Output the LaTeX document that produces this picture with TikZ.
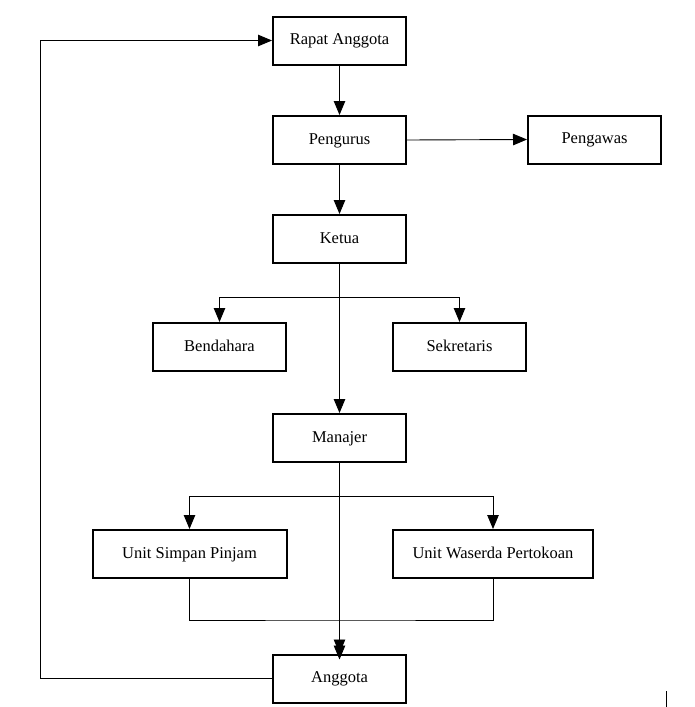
\documentclass[tikz,border=0pt]{standalone}
\usepackage{fontspec}
\setmainfont{Liberation Serif}
\usetikzlibrary{arrows.meta}
\begin{document}
\begin{tikzpicture}[x=1pt,y=-1pt,
  box/.style={draw, line width=2pt, rectangle, minimum height=48pt, inner sep=0pt,
    text height=11.5pt, text depth=3.5pt,
    font=\fontsize{16.5}{20}\selectfont},
  conn/.style={line width=0.9pt},
  arr/.style={conn, -{Triangle[length=14pt,width=11.5pt]}}]
\useasboundingbox (0,0) rectangle (695,707);
\node[box, minimum width=133pt] (ra) at (339.5,40.5) {Rapat Anggota};
\node[box, minimum width=133pt] (pg) at (339.5,140) {Pengurus};
\node[box, minimum width=133pt] (pw) at (594.5,139.5) {Pengawas};
\node[box, minimum width=133pt] (kt) at (339.5,239) {Ketua};
\node[box, minimum width=133pt] (bd) at (219.5,347) {Bendahara};
\node[box, minimum width=133pt] (sk) at (459.5,347) {Sekretaris};
\node[box, minimum width=133pt] (mj) at (339.5,438) {Manajer};
\node[box, minimum width=194pt] (usp) at (189.5,554) {Unit Simpan Pinjam};
\node[box, minimum width=200pt] (uwp) at (493,554) {Unit Waserda Pertokoan};
\node[box, minimum width=133pt] (ag) at (339.5,678.5) {Anggota};
\coordinate (kb) at (339.5,297);
\coordinate (mb) at (339.5,496);
\coordinate (jn) at (339.5,620);
\coordinate (fb) at (40,678.5);
\coordinate (c1) at (666,691);
\coordinate (c2) at (666,707);
\draw[arr] (ra.south) -- (pg.north);
\draw[arr] (pg.east) -- (pw.west);
\draw[arr] (pg.south) -- (kt.north);
\draw[arr] (kt.south) -- (mj.north);
\draw[arr] (kb) -| (bd.north);
\draw[arr] (kb) -| (sk.north);
\draw[arr] (mj.south) -- (ag.north);
\draw[arr] (mb) -| (usp.north);
\draw[arr] (mb) -| (uwp.north);
\draw[conn] (usp.south) |- (jn) -| (uwp.south);
\draw[arr] (jn) -- ([yshift=-6pt]ag.north);
\draw[arr] (ag.west) -- (fb) |- (ra.west);
\draw[line width=1pt] (c1) -- (c2);
\end{tikzpicture}
\end{document}
